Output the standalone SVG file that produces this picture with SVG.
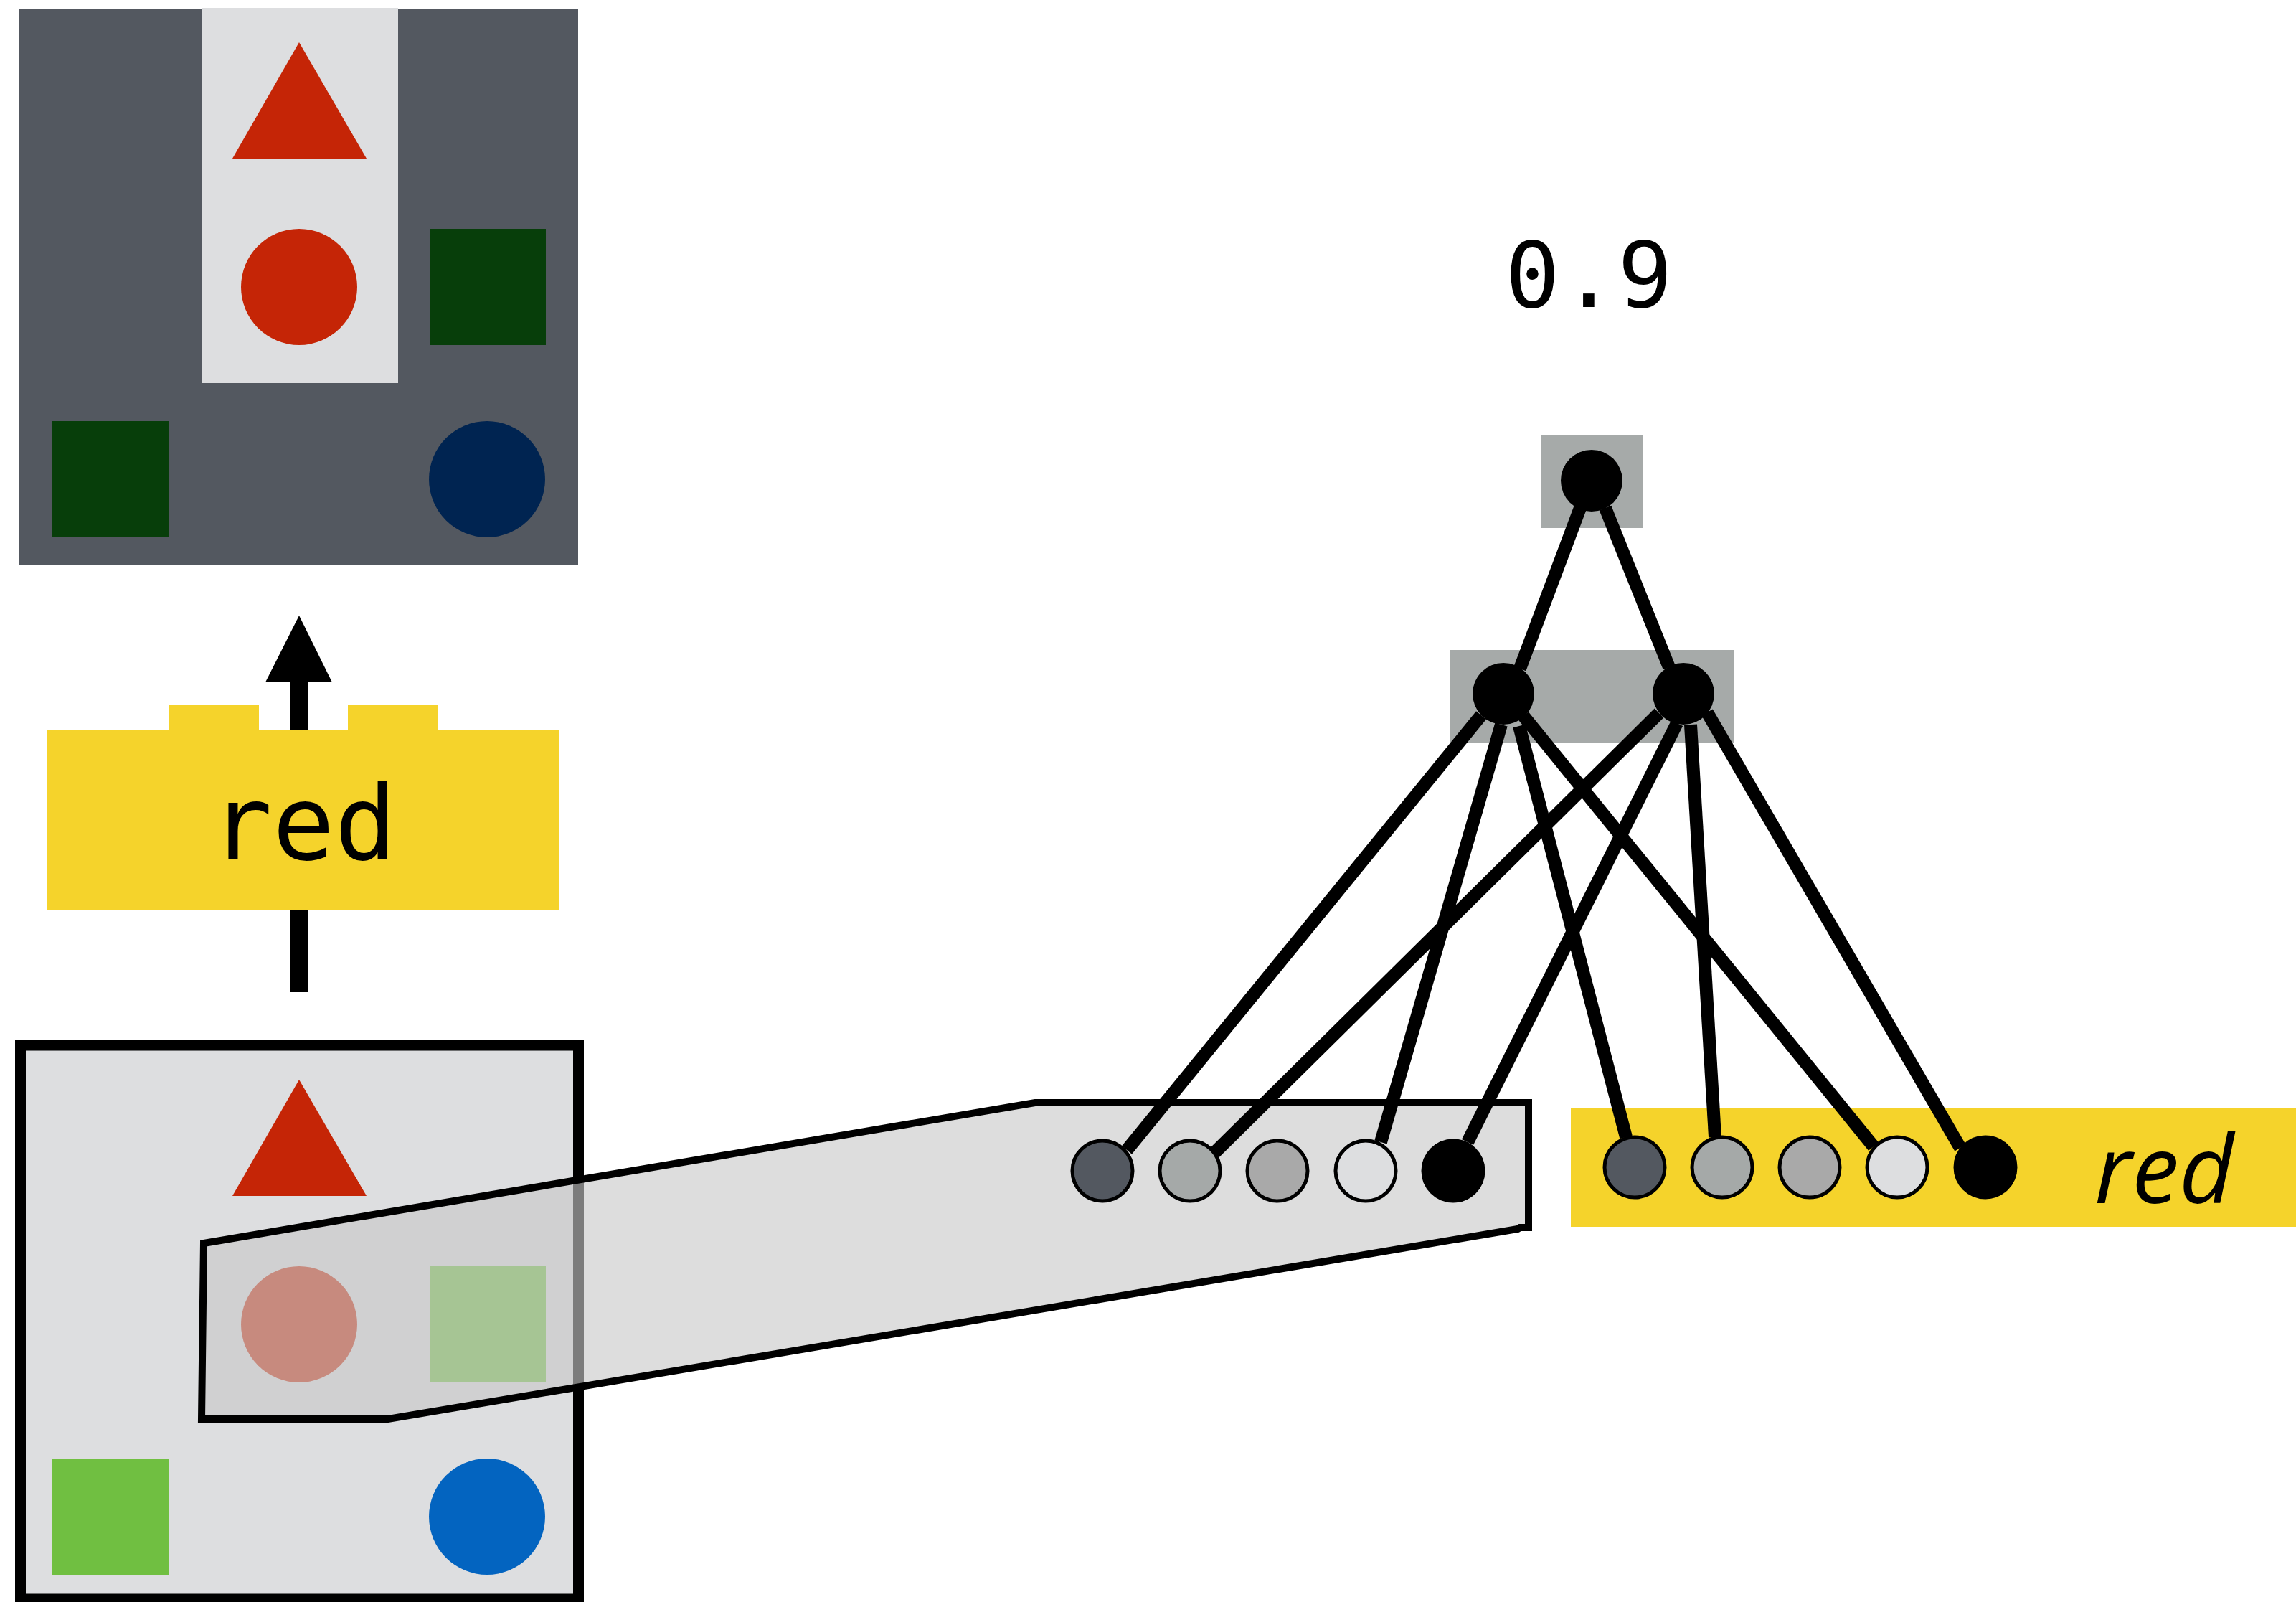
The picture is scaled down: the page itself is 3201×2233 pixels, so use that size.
<svg xmlns="http://www.w3.org/2000/svg" width="3201" height="2233" viewBox="0 0 3201 2233">
<style>
.edge{stroke:#000;stroke-width:18;fill:none}
.node{stroke:#000;stroke-width:5}
.hid{fill:#000}
.layer{fill:#a6aaa9}
.yel{fill:#f5d32b}
.mono{font-family:"DejaVu Sans Mono",monospace;fill:#000}
</style>
<rect width="3201" height="2233" fill="#fff"/>
<g id="scene-top">
<rect x="27" y="12" width="779" height="775" fill="#535860"/>
<rect x="281" y="11" width="274" height="523" fill="#dddee0"/>
<polygon points="417,59 324,221 511,221" fill="#c52506"/>
<circle cx="417" cy="400" r="81" fill="#c52506"/>
<rect x="599" y="319" width="162" height="162" fill="#073e0a"/>
<rect x="73" y="587" width="162" height="162" fill="#073e0a"/>
<circle cx="679" cy="668" r="81" fill="#002451"/>
</g>
<g id="arrow-up">
<rect x="405" y="948" width="24" height="435" fill="#000"/>
<polygon points="417,858 370,951 463,951" fill="#000"/>
</g>
<g id="query-red">
<path class="yel" d="M65,1017 H235 V983 H361 V1017 H485 V983 H611 V1017 H780 V1268 H65 Z"/>
<text class="mono" x="423" y="1198" font-size="144" text-anchor="middle">red</text>
</g>
<g id="scene-bottom">
<rect x="28.5" y="1457" width="778" height="772" fill="#dddee0" stroke="#000" stroke-width="15"/>
<polygon points="417,1505 324,1667 511,1667" fill="#c52506"/>
<circle cx="417" cy="1846" r="81" fill="#c52506"/>
<rect x="599" y="1765" width="162" height="162" fill="#70bf41"/>
<rect x="73" y="2033" width="162" height="162" fill="#70bf41"/>
<circle cx="679" cy="2114" r="81" fill="#0364c0"/>
</g>
<g id="attention-beam">
<polygon points="284,1733 1443,1537 2131,1537 2131,1711 2119,1711 2116,1713 541,1978 281,1978" fill="rgb(200,200,200)" fill-opacity="0.62" stroke="#000" stroke-width="10"/>
</g>
<g id="word-row">
<rect x="2190" y="1544" width="1011" height="166" class="yel"/>
<text x="2920" y="1677" font-family="'Open Sans','Noto Sans',sans-serif" font-style="italic" font-size="132" fill="#000">red</text>
</g>
<g id="hidden-layer-bg"><rect x="2021" y="906" width="396" height="129" class="layer"/></g>
<g id="output-layer-bg"><rect x="2149" y="607" width="141" height="129" class="layer"/></g>
<g id="connectors">
<line class="edge" x1="2203" y1="708" x2="2119" y2="932"/>
<line class="edge" x1="2238" y1="708" x2="2327" y2="930"/>
<line class="edge" x1="2065" y1="997" x2="1571" y2="1603"/>
<line class="edge" x1="2093" y1="1010" x2="1925" y2="1592"/>
<line class="edge" x1="2118" y1="1012" x2="2267" y2="1585"/>
<line class="edge" x1="2124" y1="998" x2="2612" y2="1598"/>
<line class="edge" x1="2313" y1="994" x2="1693" y2="1607"/>
<line class="edge" x1="2338" y1="1008" x2="2046" y2="1592"/>
<line class="edge" x1="2357" y1="1010" x2="2391" y2="1585"/>
<line class="edge" x1="2380" y1="993" x2="2733" y2="1600"/>
</g>
<g id="input-units">
<circle class="node" cx="1537" cy="1632" r="42" fill="#535860"/>
<circle class="node" cx="1659" cy="1632" r="42" fill="#a5a9a8"/>
<circle class="node" cx="1781" cy="1632" r="42" fill="#a9a9a9"/>
<circle class="node" cx="1904" cy="1632" r="42" fill="#dddee0"/>
<circle class="node" cx="2026" cy="1632" r="42" fill="#000"/>
</g>
<g id="word-units">
<circle class="node" cx="2279" cy="1627" r="42" fill="#535860"/>
<circle class="node" cx="2401" cy="1627" r="42" fill="#a5a9a8"/>
<circle class="node" cx="2523" cy="1627" r="42" fill="#a9a9a9"/>
<circle class="node" cx="2645" cy="1627" r="42" fill="#dddee0"/>
<circle class="node" cx="2768" cy="1627" r="42" fill="#000"/>
</g>
<g id="hidden-units">
<circle class="hid" cx="2096" cy="967" r="43"/>
<circle class="hid" cx="2347" cy="967" r="43"/>
</g>
<g id="output-unit">
<circle class="hid" cx="2219" cy="670" r="43"/>
</g>
<g id="output-value">
<text class="mono" x="2216" y="428" font-size="127" text-anchor="middle" letter-spacing="2">0.9</text>
</g>
</svg>
